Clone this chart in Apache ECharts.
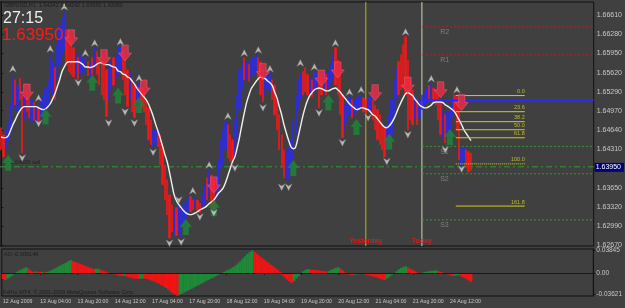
<!DOCTYPE html>
<html><head><meta charset="utf-8">
<script src="https://cdn.jsdelivr.net/npm/echarts@6/dist/echarts.min.js"></script>
<style>html,body{margin:0;padding:0;background:#404040;}#c{width:625px;height:308px;}</style>
</head><body><div id="c"></div>
<script>
// ---- data (GBPUSD H1) ----
const highs = [
1.6468,1.6456,1.6464,1.6478,1.6507,1.6555,1.6550,1.6541,1.6553,1.6524,
1.6524,1.6529,1.6519,1.6516,1.6511,1.6507,1.6502,1.6516,1.6524,1.6536,
1.6550,1.6593,1.6581,1.6571,1.6610,1.6644,1.6656,1.6666,1.6636,1.6627,
1.6619,1.6605,1.6593,1.6588,1.6593,1.6584,1.6589,1.6581,1.6581,1.6588,
1.6605,1.6598,1.6588,1.6593,1.6584,1.6567,1.6571,1.6581,1.6588,1.6593,
1.6605,1.6607,1.6598,1.6584,1.6567,1.6564,1.6550,1.6541,1.6541,1.6545,
1.6536,1.6533,1.6516,1.6502,1.6481,1.6464,1.6464,1.6461,1.6456,1.6434,
1.6404,1.6379,1.6353,1.6336,1.6327,1.6331,1.6336,1.6327,1.6336,1.6344,
1.6350,1.6350,1.6344,1.6348,1.6344,1.6339,1.6353,1.6370,1.6382,1.6396,
1.6387,1.6379,1.6387,1.6413,1.6447,1.6464,1.6478,1.6473,1.6456,1.6447,
1.6481,1.6524,1.6567,1.6581,1.6588,1.6581,1.6576,1.6584,1.6589,1.6593,
1.6588,1.6581,1.6567,1.6564,1.6557,1.6562,1.6550,1.6541,1.6516,1.6490,
1.6456,1.6430,1.6430,1.6434,1.6447,1.6481,1.6524,1.6550,1.6559,1.6564,
1.6571,1.6559,1.6553,1.6550,1.6564,1.6559,1.6553,1.6560,1.6564,1.6559,
1.6564,1.6576,1.6593,1.6605,1.6584,1.6559,1.6524,1.6507,1.6516,1.6521,
1.6516,1.6516,1.6519,1.6521,1.6524,1.6519,1.6516,1.6519,1.6524,1.6516,
1.6507,1.6499,1.6490,1.6473,1.6468,1.6473,1.6490,1.6516,1.6550,1.6571,
1.6581,1.6593,1.6610,1.6624,1.6584,1.6550,1.6533,1.6524,1.6516,1.6516,
1.6524,1.6529,1.6536,1.6540,1.6543,1.6536,1.6533,1.6524,1.6516,1.6499,
1.6490,1.6495,1.6507,1.6519,1.6524,1.6521,1.6516,1.6434,1.6435,1.6430,
1.6427,1.64242];
const lows = [
1.6430,1.6418,1.6430,1.6444,1.6459,1.6499,1.6507,1.6495,1.6516,1.6425,
1.6481,1.6495,1.6485,1.6478,1.6481,1.6476,1.6478,1.6485,1.6490,1.6499,
1.6507,1.6533,1.6524,1.6516,1.6550,1.6576,1.6593,1.6601,1.6576,1.6564,
1.6559,1.6555,1.6559,1.6550,1.6559,1.6564,1.6560,1.6557,1.6553,1.6559,
1.6567,1.6559,1.6541,1.6524,1.6516,1.6487,1.6516,1.6533,1.6541,1.6550,
1.6559,1.6567,1.6550,1.6524,1.6504,1.6516,1.6495,1.6485,1.6499,1.6507,
1.6502,1.6495,1.6473,1.6447,1.6439,1.6434,1.6439,1.6435,1.6404,1.6370,
1.6344,1.6319,1.6279,1.6290,1.6284,1.6283,1.6290,1.6281,1.6302,1.6314,
1.6324,1.6324,1.6327,1.6331,1.6326,1.6322,1.6329,1.6336,1.6344,1.6353,
1.6336,1.6327,1.6344,1.6362,1.6396,1.6404,1.6430,1.6416,1.6410,1.6408,
1.6422,1.6447,1.6499,1.6533,1.6550,1.6550,1.6547,1.6553,1.6559,1.6564,
1.6550,1.6524,1.6512,1.6524,1.6533,1.6529,1.6516,1.6490,1.6464,1.6430,
1.6399,1.6382,1.6379,1.6379,1.6396,1.6413,1.6456,1.6499,1.6516,1.6524,
1.6529,1.6524,1.6528,1.6521,1.6529,1.6533,1.6502,1.6524,1.6529,1.6524,
1.6536,1.6541,1.6550,1.6541,1.6524,1.6490,1.6451,1.6464,1.6478,1.6490,
1.6485,1.6490,1.6495,1.6499,1.6502,1.6495,1.6492,1.6495,1.6499,1.6481,
1.6464,1.6447,1.6439,1.6430,1.6418,1.6430,1.6439,1.6456,1.6490,1.6516,
1.6524,1.6533,1.6536,1.6524,1.6464,1.6481,1.6473,1.6481,1.6473,1.6485,
1.6499,1.6507,1.6511,1.6516,1.6516,1.6512,1.6507,1.6481,1.6456,1.6447,
1.6442,1.6451,1.6464,1.6485,1.6495,1.6464,1.6413,1.6404,1.6410,1.6399,
1.6392,1.63950];
// u = up bar (blue), d = down bar (red)
const barDirections = ("dduuuududd"+"uddududuuu"+"uuuduuuudd"+"dduduuudud"+"uddddduudu"+
  "uudddudduu"+"ddddduuddd"+"dddduduuuu"+"uddudduudu"+"dduuuuuddd"+
  "uuuududuuu"+"ddduuudddd"+"dduuuuuuud"+"dduduuddud"+"uuudddduuu"+
  "duuuudduud"+"ddddduuuuu"+"dddddddudu"+"uuududdddu"+"duuuddduud"+"dd").split('');
const maValues = [
1.6452,1.6451,1.6451,1.6454,1.6463,1.6473,1.6481,1.6490,1.6497,1.6502,
1.6504,1.6504,1.6504,1.6504,1.6504,1.6504,1.6502,1.6500,1.6499,1.6500,
1.6504,1.6509,1.6517,1.6526,1.6538,1.6550,1.6564,1.6572,1.6579,1.6581,
1.6581,1.6581,1.6581,1.6581,1.6579,1.6576,1.6572,1.6572,1.6571,1.6572,
1.6574,1.6577,1.6579,1.6579,1.6577,1.6576,1.6576,1.6574,1.6572,1.6571,
1.6565,1.6564,1.6560,1.6559,1.6555,1.6553,1.6548,1.6543,1.6536,1.6531,
1.6526,1.6521,1.6516,1.6509,1.6499,1.6488,1.6475,1.6463,1.6451,1.6437,
1.6423,1.6410,1.6392,1.6372,1.6353,1.6343,1.6336,1.6331,1.6326,1.6322,
1.6320,1.6319,1.6320,1.6322,1.6324,1.6327,1.6329,1.6331,1.6334,1.6338,
1.6341,1.6344,1.6350,1.6356,1.6360,1.6365,1.6374,1.6386,1.6398,1.6410,
1.6418,1.6434,1.6452,1.6473,1.6493,1.6511,1.6524,1.6535,1.6541,1.6547,
1.6552,1.6555,1.6553,1.6552,1.6548,1.6545,1.6540,1.6529,1.6519,1.6504,
1.6490,1.6473,1.6459,1.6446,1.6435,1.6432,1.6435,1.6451,1.6469,1.6487,
1.6502,1.6514,1.6523,1.6528,1.6533,1.6535,1.6536,1.6535,1.6533,1.6531,
1.6531,1.6533,1.6535,1.6536,1.6533,1.6529,1.6524,1.6519,1.6514,1.6509,
1.6505,1.6502,1.6499,1.6500,1.6502,1.6502,1.6500,1.6499,1.6495,1.6490,
1.6488,1.6483,1.6478,1.6473,1.6469,1.6468,1.6471,1.6476,1.6483,1.6492,
1.6502,1.6511,1.6519,1.6526,1.6528,1.6526,1.6523,1.6517,1.6512,1.6507,
1.6504,1.6502,1.6502,1.6504,1.6507,1.6511,1.6512,1.6512,1.6512,1.6511,
1.6507,1.6505,1.6502,1.6499,1.6495,1.6488,1.6481,1.6473,1.6464,1.6458,
1.6452,1.6446];
const aoValues = [
-0.0100,-0.0117,-0.0095,-0.0070,-0.0040,-0.0010,0.0020,0.0040,0.0060,0.0080,
0.0095,0.0070,0.0040,0.0020,0.0025,0.0020,0.0015,0.0020,0.0015,0.0020,
0.0030,0.0050,0.0070,0.0090,0.0110,0.0130,0.0150,0.0170,0.0195,0.0215,
0.0200,0.0185,0.0170,0.0155,0.0140,0.0125,0.0110,0.0095,0.0080,0.0065,
0.0070,0.0072,0.0055,0.0040,0.0025,0.0010,-0.0005,-0.0015,-0.0025,-0.0035,
-0.0045,-0.0050,-0.0045,-0.0060,-0.0070,-0.0080,-0.0090,-0.0095,-0.0100,-0.0095,
-0.0090,-0.0095,-0.0100,-0.0115,-0.0130,-0.0145,-0.0160,-0.0180,-0.0200,-0.0225,
-0.0250,-0.0280,-0.0310,-0.0340,-0.0360,-0.0380,-0.0362,-0.0343,-0.0322,-0.0303,
-0.0281,-0.0262,-0.0240,-0.0221,-0.0199,-0.0180,-0.0161,-0.0139,-0.0120,-0.0101,
-0.0082,-0.0060,-0.0041,-0.0022,0.0002,0.0020,0.0041,0.0058,0.0079,0.0101,
0.0128,0.0162,0.0198,0.0241,0.0279,0.0318,0.0349,0.0376,0.0352,0.0321,
0.0292,0.0259,0.0231,0.0198,0.0171,0.0139,0.0112,0.0081,0.0049,0.0016,
-0.0031,-0.0072,-0.0108,-0.0141,-0.0166,-0.0131,-0.0089,-0.0052,-0.0011,0.0030,
0.0052,0.0066,0.0060,0.0055,0.0049,0.0046,0.0040,0.0035,0.0030,0.0025,
0.0031,0.0052,0.0071,0.0086,0.0096,0.0071,0.0039,0.0011,-0.0021,-0.0031,
-0.0036,-0.0030,-0.0024,-0.0019,-0.0014,-0.0021,-0.0031,-0.0040,-0.0051,-0.0060,
-0.0071,-0.0080,-0.0096,-0.0109,-0.0117,-0.0091,-0.0060,-0.0031,-0.0004,0.0029,
0.0061,0.0084,0.0104,0.0112,0.0091,0.0070,0.0049,0.0030,0.0011,-0.0009,
0.0004,0.0015,0.0024,0.0030,0.0036,0.0041,0.0043,0.0031,0.0019,0.0009,
-0.0006,-0.0021,-0.0036,-0.0050,-0.0045,-0.0040,-0.0034,-0.0061,-0.0079,-0.0101,
-0.0124,-0.0145];
// [bar index, price]
const redArrows = [[11,1.6529],[30,1.6622],[44,1.6588],[53,1.6596],[61,1.6536],[91,1.6370],[112,1.6564],[137,1.6553],[144,1.6567],[160,1.6528],[174,1.6541],[188,1.6533],[197,1.6511]];
const greenArrows = [[3,1.6408],[19,1.6487],[39,1.6545],[50,1.6523],[59,1.6507],[79,1.6298],[91,1.6331],[125,1.6399],[140,1.6511],[152,1.6469],[166,1.6444],[192,1.6452]];
const fractalsUp = [[5,1.6569],[16,1.6519],[21,1.6603],[27,1.6675],[36,1.6596],[40,1.6613],[51,1.6615],[59,1.6553],[82,1.6360],[89,1.6404],[97,1.6488],[104,1.6596],[110,1.6601],[115,1.6569],[128,1.6579],[134,1.6572],[143,1.6613],[149,1.6529],[154,1.6533],[173,1.6632],[184,1.6552],[195,1.6533]];
const fractalsDown = [[9,1.6416],[16,1.6475],[33,1.6545],[46,1.6476],[53,1.6495],[57,1.6476],[65,1.6426],[72,1.6270],[76,1.6344],[77,1.6272],[85,1.6315],[91,1.6322],[100,1.6399],[112,1.6502],[120,1.6366],[123,1.6366],[136,1.6493],[146,1.6442],[157,1.6485],[165,1.6410],[174,1.6456],[190,1.6430],[197,1.6397]];
const pivotNames = ['R2','R1','P','S1','S2','S3'];
const pivotValues = [1.6641,1.6593,1.6515,1.6436,1.6389,1.6310];
const sellLevel = 1.6401;
const sellText = '1.64005 sell';
const fibHigh = 1.6523, fibLow = 1.6406;
const fibLevels = [0.0, 23.6, 38.2, 50.0, 61.8, 100.0, 161.8];
const fibStartBar = 194.5, fibEndBar = 224;
const yesterdayBar = 156, todayBar = 180;
const priceTicks = [1.66610,1.66280,1.65950,1.65620,1.65290,1.64970,1.64640,1.64310,1.63650,1.63320,1.62990,1.62670];
const aoTicks = [0.03845, 0, -0.03621];
const lastPrice = 1.63950;
const totalSlots = 254;

// ---- build ----
const MON = ['Jan','Feb','Mar','Apr','May','Jun','Jul','Aug','Sep','Oct','Nov','Dec'];
const cats = [];
let t = Date.UTC(2009,7,12,12);
while (cats.length < totalSlots) {
  const d = new Date(t); const wd = d.getUTCDay();
  if (wd !== 0 && wd !== 6) {
    const hh = String(d.getUTCHours()).padStart(2,'0');
    cats.push(cats.length === 0 ? d.getUTCDate()+' '+MON[d.getUTCMonth()]+' '+d.getUTCFullYear()
                                : d.getUTCDate()+' '+MON[d.getUTCMonth()]+' '+hh+':00');
  }
  t += 3600000;
}
const nBars = highs.length;
const candles = highs.map((h,i)=> barDirections[i]==='u' ? [lows[i],highs[i],lows[i],highs[i]] : [highs[i],lows[i],lows[i],highs[i]]);
const aoData = aoValues.map((v,i)=>({value:v, itemStyle:{color:(i>0 && v>aoValues[i-1])?'#1d8a3a':'#f01414'}}));
const yMin = 1.62653, yMax = 1.66833;
const FONT = 'Liberation Sans';
const showTime = (i)=> i%16===0 && i < nBars;

const series = [];
series.push({type:'candlestick', xAxisIndex:0, yAxisIndex:0, data:candles, barWidth:1.8, z:3,
  itemStyle:{color:'#2a2af0', color0:'#f41818', borderColor:'#2a2af0', borderColor0:'#f41818', borderWidth:0.6},
  markLine:{silent:true, symbol:['none','none'], data:[{yAxis:lastPrice}], lineStyle:{color:'rgba(0,0,0,0)'},
    label:{position:'end', distance:1, formatter:lastPrice.toFixed(5), backgroundColor:'#00007a', color:'#ffffff', fontSize:7, fontFamily:FONT, padding:[1,3,1,1]}}});
series.push({type:'line', xAxisIndex:0, yAxisIndex:0, data:maValues, symbol:'none', smooth:0.3, z:4,
  lineStyle:{color:'#f2f2f2', width:1.4}});
// vertical day lines
[[yesterdayBar,'#b8b800','Yesterday'],[todayBar,'#d2d2b8','Today']].forEach(([b,c,txt])=>{
  series.push({type:'line', xAxisIndex:1, yAxisIndex:0, data:[[b,yMin],[b,yMax]], symbol:'none', z:2, lineStyle:{color:c,width:1}});
  series.push({type:'scatter', xAxisIndex:1, yAxisIndex:0, data:[[b,yMin]], symbolSize:0, z:6,
    label:{show:true, position:[0,-1], align:'center', verticalAlign:'bottom', formatter:txt, color:'#ff1010', fontSize:7, fontWeight:'bold', fontFamily:FONT}});
});
// pivot lines
pivotNames.forEach((n,k)=>{
  const v = pivotValues[k];
  const isP = n==='P';
  const col = isP ? '#2a2aff' : (n[0]==='R' ? '#a02828' : '#2f9a2f');
  series.push({type:'line', xAxisIndex:1, yAxisIndex:0, data:[[todayBar,v],[totalSlots-0.5,v]], symbol:'none', z:isP?5:2,
    lineStyle:{color:col, width:isP?2:1, type:isP?'solid':[2,2]}});
  if (!isP) series.push({type:'scatter', xAxisIndex:1, yAxisIndex:0, data:[[187.8,v]], symbolSize:0, z:2,
    label:{show:true, position:[0,2], align:'left', verticalAlign:'top', formatter:n, color:'#8e8e8e', fontSize:7, fontFamily:FONT}});
});
// sell line (dash-dot, full width)
series.push({type:'line', xAxisIndex:1, yAxisIndex:0, data:[[-0.5,sellLevel],[totalSlots-0.5,sellLevel]], symbol:'none', z:2,
  lineStyle:{color:'#2f9a2f', width:1, type:[6,3,2,3]}});
series.push({type:'scatter', xAxisIndex:1, yAxisIndex:0, data:[[4,sellLevel]], symbolSize:0, z:2,
  label:{show:true, position:[0,-1], align:'left', verticalAlign:'bottom', formatter:sellText, color:'#1a1a1a', fontSize:5.5, fontFamily:FONT}});
// fibonacci
fibLevels.forEach(l=>{
  const v = fibHigh - (fibHigh-fibLow)*l/100;
  series.push({type:'line', xAxisIndex:1, yAxisIndex:0, data:[[fibStartBar,v],[fibEndBar,v]], symbol:'none', z:5,
    lineStyle:{color:'#cfcf10', width:1, type: l===100 ? [1,1] : 'solid'}});
  series.push({type:'scatter', xAxisIndex:1, yAxisIndex:0, data:[[fibEndBar,v]], symbolSize:0, z:5,
    label:{show:true, position:[0,-1], align:'right', verticalAlign:'bottom', formatter:l.toFixed(1), color:'#d8d820', fontSize:5.5, fontFamily:FONT}});
});
// arrows
series.push({type:'scatter', xAxisIndex:1, yAxisIndex:0, data:greenArrows, z:7,
  symbol:'path://M6,0L12,7L9,7L9,14L3,14L3,7L0,7Z', symbolSize:[12,16], itemStyle:{color:'#1f8438'}});
series.push({type:'scatter', xAxisIndex:1, yAxisIndex:0, data:redArrows, z:7,
  symbol:'path://M3,0L9,0L9,7L12,7L6,14L0,7L3,7Z', symbolSize:[13,16], itemStyle:{color:'#f02a45', borderColor:'#ff7090', borderWidth:0.5}});
// fractals
series.push({type:'scatter', xAxisIndex:1, yAxisIndex:0, data:fractalsUp, z:8,
  symbol:'path://M4,0L8,8L4,5.5L0,8Z', symbolSize:[7,7], itemStyle:{color:'#d6d6d6', borderColor:'#707070', borderWidth:0.4}});
series.push({type:'scatter', xAxisIndex:1, yAxisIndex:0, data:fractalsDown, z:8,
  symbol:'path://M0,0L4,2.5L8,0L4,8Z', symbolSize:[7,7], itemStyle:{color:'#d6d6d6', borderColor:'#707070', borderWidth:0.4}});
// AO
series.push({type:'bar', xAxisIndex:2, yAxisIndex:1, data:aoData, barWidth:2.6, z:2,
  markLine:{silent:true, symbol:['none','none'], data:[{yAxis:0}], lineStyle:{color:'#1a1a1a', width:1, type:'solid'}, label:{show:false}}});

const chart = echarts.init(document.getElementById('c'), null, {renderer:'canvas'});
chart.setOption({
  animation:false,
  backgroundColor:'#404040',
  textStyle:{fontFamily:FONT},
  grid:[
    {left:0, right:22, top:2, height:244, show:true, backgroundColor:'transparent', borderColor:'#111', borderWidth:1},
    {left:0, right:22, top:249, height:47, show:true, backgroundColor:'transparent', borderColor:'#111', borderWidth:1}
  ],
  xAxis:[
    {type:'category', gridIndex:0, data:cats, boundaryGap:true, axisLine:{show:false}, axisTick:{show:false}, axisLabel:{show:false}},
    {type:'value', gridIndex:0, min:-0.5, max:totalSlots-0.5, show:false},
    {type:'category', gridIndex:1, data:cats, boundaryGap:true, axisLine:{show:false},
      axisTick:{show:true, alignWithLabel:true, interval:showTime, length:2, lineStyle:{color:'#111'}},
      axisLabel:{interval:showTime, color:'#c8c8c8', fontSize:5.2, align:'left', margin:3, fontFamily:FONT}}
  ],
  yAxis:[
    {type:'value', gridIndex:0, position:'right', min:yMin, max:yMax, splitLine:{show:false},
      axisLine:{show:true, lineStyle:{color:'#111'}},
      axisTick:{show:true, customValues:priceTicks, length:2, lineStyle:{color:'#111'}},
      axisLabel:{customValues:priceTicks, formatter:(v)=>v.toFixed(5), color:'#c8c8c8', fontSize:7, margin:3, fontFamily:FONT}},
    {type:'value', gridIndex:1, position:'right', min:-0.0384, max:0.0401, splitLine:{show:false},
      axisLine:{show:true, lineStyle:{color:'#111'}},
      axisTick:{show:true, customValues:aoTicks, length:2, lineStyle:{color:'#111'}},
      axisLabel:{customValues:aoTicks, formatter:(v)=> v===0 ? '0.00' : v.toFixed(5), color:'#c8c8c8', fontSize:6.5, margin:3, fontFamily:FONT}}
  ],
  graphic:[
    {type:'text', left:4, top:2, z:100, style:{text:'GBPUSD,H1  1.64242 1.64242 1.63950 1.63950', fill:'#1c1c1c', font:'5.5px "Liberation Sans"'}},
    {type:'text', left:3, top:11, z:100, style:{text:'27:15', fill:'#eeeeee', font:'16px "Liberation Sans"'}},
    {type:'text', left:2, top:27, z:100, style:{text:'1.63950', fill:'#ff1a1a', font:'17px "Liberation Sans"'}},
    {type:'text', left:4, top:251, z:100, style:{text:'AO -0.006146', fill:'#1c1c1c', font:'5.5px "Liberation Sans"'}},
    {type:'text', left:3, top:289, z:100, style:{text:'FxPro MT4, © 2001-2009 MetaQuotes Software Corp.', fill:'#1c1c1c', font:'5.5px "Liberation Sans"'}}
  ],
  series: series
});
</script></body></html>
